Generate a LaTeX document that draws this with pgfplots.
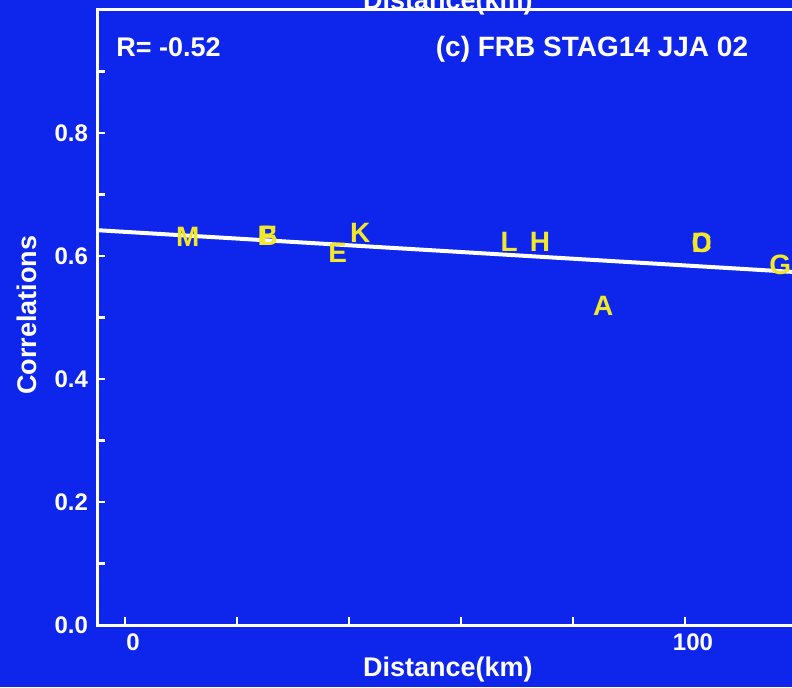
\documentclass[border=0pt]{standalone}
\usepackage{pgfplots}
\pgfplotsset{compat=1.18}
\usepackage{fontspec}
\setmainfont{Liberation Sans}
\definecolor{bgblue}{RGB}{14,38,236}
\definecolor{ltyellow}{RGB}{240,232,40}
\pgfplotstableread{
x y label
11.2 0.631 M
25.5 0.633 B
25.5 0.633 F
38.0 0.605 E
42.0 0.637 K
68.6 0.623 L
74.1 0.623 H
85.4 0.519 A
103.0 0.621 C
103.0 0.621 D
117.0 0.585 G
}\pts
\pgfplotstableread{
x y
-5 0.642
125 0.571
}\fitline
\begin{document}
\begin{tikzpicture}
\useasboundingbox (0,0) rectangle (396pt,343.5pt);
\fill[bgblue] (0,0) rectangle (396pt,343.5pt);
\clip (0,0) rectangle (396pt,343.5pt);
\begin{axis}[
  at={(48.5pt,31pt)}, anchor=south west,
  scale only axis, width=364pt, height=307.5pt,
  xmin=-5, xmax=125, ymin=0, ymax=1,
  axis line style={white, line width=1.5pt},
  tick style={white, line width=1.3pt},
  major tick length=4pt,
  tick align=inside,
  xtick pos=bottom, ytick pos=left,
  xtick={0,20,40,60,80,100,120},
  xticklabels={0,,,,,100,},
  ytick={0,0.1,0.2,0.3,0.4,0.5,0.6,0.7,0.8,0.9},
  yticklabels={0.0,,0.2,,0.4,,0.6,,0.8,},
  /pgf/number format/assume math mode=true,
  ticklabel style={font=\fontsize{12}{14}\selectfont\bfseries, text=white},
  xticklabel style={xshift=4pt, yshift=-1pt},
  yticklabel style={xshift=-1pt},
  xlabel={Distance(km)}, ylabel={Correlations},
  label style={font=\fontsize{13.5}{16}\selectfont\bfseries, text=white},
  xlabel style={at={(axis description cs:0.482,-0.073)}, anchor=center},
  ylabel style={at={(axis description cs:-0.096,0.504)}, anchor=center},
  clip=false,
]
\addplot[white, line width=2pt] table[x=x,y=y] {\fitline};
\addplot[draw=none, mark=none, nodes near coords, point meta=explicit symbolic,
  nodes near coords align=center,
  every node near coord/.append style={font=\fontsize{14}{16}\selectfont\bfseries, text=ltyellow, inner sep=0pt}]
  table[x=x,y=y,meta=label] {\pts};
\node[anchor=base west, text=white, font=\fontsize{13.5}{15}\selectfont\bfseries, inner sep=0pt] at (axis description cs:0.026,0.925) {R= -0.52};
\node[anchor=base, text=white, font=\fontsize{14}{16}\selectfont\bfseries, inner sep=0pt] at (axis description cs:0.680,0.925) {(c) FRB STAG14 JJA 02};
\node[anchor=base, text=white, font=\fontsize{13.5}{16}\selectfont\bfseries, inner sep=0pt] at (axis description cs:0.482,1.001) {Distance(km)};
\end{axis}
\end{tikzpicture}
\end{document}
